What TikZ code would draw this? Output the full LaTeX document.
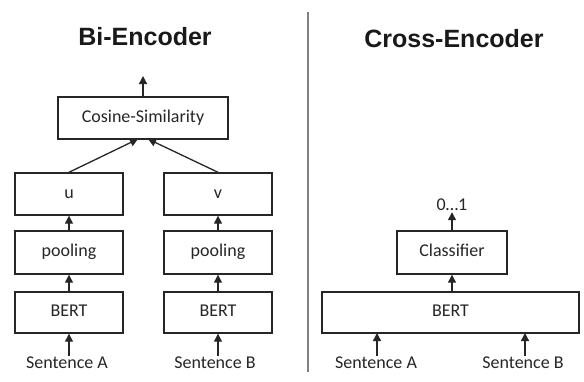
\documentclass[tikz,border=0pt]{standalone}
\usepackage{fontspec}
\setmainfont{Carlito}
\newfontfamily\titlefont{Liberation Sans}
\usetikzlibrary{arrows.meta,calc}
\begin{document}
\begin{tikzpicture}[x=1pt,y=-1pt,
  box/.style={draw=black!85,line width=1.4pt,inner sep=0pt,text height=12pt,text depth=4pt,font=\fontsize{18}{20}\selectfont,text=black!85},
  lbl/.style={inner sep=0pt,text height=12pt,text depth=4pt,font=\fontsize{18}{20}\selectfont,text=black!85},
  ttl/.style={font=\titlefont\bfseries\fontsize{25}{28}\selectfont,text=black!90},
  arr/.style={line width=1.3pt,draw=black!85,-{Triangle[length=8pt,width=8pt]}}]
\useasboundingbox (0,0) rectangle (584,381);
% titles
\node[ttl] (t1) at (145,37) {Bi-Encoder};
\node[ttl] (t2) at (454,39) {Cross-Encoder};
% divider
\coordinate (d1) at (308,12);
\coordinate (d2) at (308,372);
\draw[black!50,line width=1.5pt] (d1) -- (d2);
% Bi-encoder
\node[box,minimum width=170pt,minimum height=42pt] (cos) at (143,118) {Cosine-Similarity};
\node[box,minimum width=108pt,minimum height=42pt] (u) at (69,194) {u};
\node[box,minimum width=108pt,minimum height=42pt] (v) at (218,194) {v};
\node[box,minimum width=108pt,minimum height=43pt] (pa) at (69,252.5) {pooling};
\node[box,minimum width=108pt,minimum height=43pt] (pb) at (218,252.5) {pooling};
\node[box,minimum width=108pt,minimum height=41pt] (ba) at (69,312.5) {BERT};
\node[box,minimum width=108pt,minimum height=41pt] (bb) at (218,312.5) {BERT};
\node[lbl] (sa) at (67,364) {Sentence A};
\node[lbl] (sb) at (215,364) {Sentence B};
\coordinate (cosout) at (143,76);
\coordinate (cosinl) at (138,139);
\coordinate (cosinr) at (148,139);
\draw[arr] (cos.north) -- (cosout);
\draw[arr] (u.north) -- (cosinl);
\draw[arr] (v.north) -- (cosinr);
\draw[arr] (pa.north) -- (u.south);
\draw[arr] (pb.north) -- (v.south);
\draw[arr] (ba.north) -- (pa.south);
\draw[arr] (bb.north) -- (pb.south);
\draw[arr] (sa.north -| ba.south) -- (ba.south);
\draw[arr] (sb.north -| bb.south) -- (bb.south);
% Cross-encoder
\node[box,minimum width=257pt,minimum height=41pt] (bc) at (450.5,312.5) {BERT};
\node[box,minimum width=110pt,minimum height=43pt] (cl) at (452,252.5) {Classifier};
\node[lbl,text height=10pt,text depth=2pt] (out) at (452,206) {0…1};
\node[lbl] (sc) at (376,364) {Sentence A};
\node[lbl] (sd) at (523,364) {Sentence B};
\draw[arr] (cl.north) -- (out.south);
\draw[arr] (bc.north -| cl.south) -- (cl.south);
\coordinate (ca) at (377,333);
\coordinate (cb) at (525,333);
\draw[arr] (sc.north -| ca) -- (ca);
\draw[arr] (sd.north -| cb) -- (cb);
\end{tikzpicture}
\end{document}
